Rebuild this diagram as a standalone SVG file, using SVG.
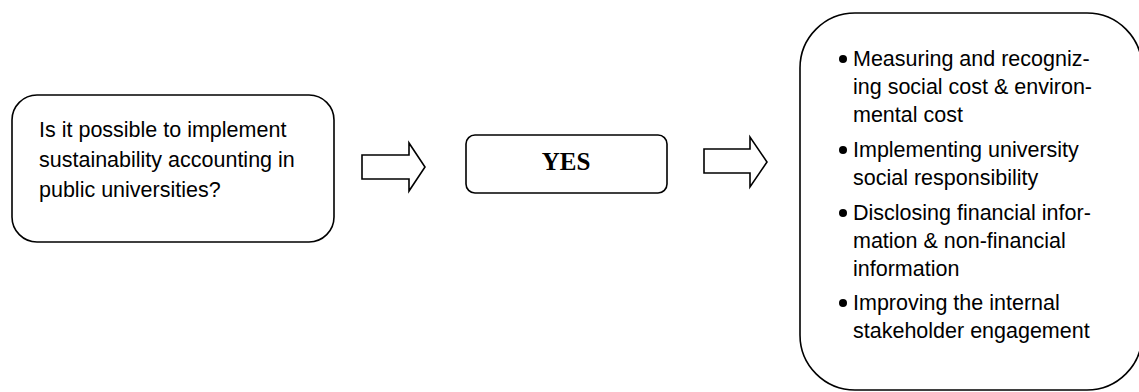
<svg xmlns="http://www.w3.org/2000/svg" width="1139" height="392" viewBox="0 0 1139 392">
<style>
.box{fill:#fff;stroke:#000;stroke-width:1.6}
.arrow{fill:#fff;stroke:#000;stroke-width:1.6;stroke-linejoin:miter}
.t{font-family:"Liberation Sans",Arial,sans-serif;font-size:21.5px;fill:#000}
.yes{font-family:"Liberation Serif","Times New Roman",serif;font-size:25px;font-weight:bold;fill:#000}
</style>
<rect width="1139" height="392" fill="#fff"/>
<g id="question">
<rect class="box" x="12" y="95" width="322" height="147" rx="25" ry="25"/>
<text class="t" x="39" y="137">Is it possible to implement</text>
<text class="t" x="39" y="167">sustainability accounting in</text>
<text class="t" x="39" y="197">public universities?</text>
</g>
<g id="yes">
<rect class="box" x="466" y="135" width="201" height="58" rx="9" ry="9"/>
<text class="yes" x="566" y="170" text-anchor="middle">YES</text>
</g>
<g id="outcomes">
<rect class="box" x="800" y="13" width="342" height="377" rx="55" ry="55"/>
<circle cx="843" cy="59" r="4"/>
<text class="t" x="853" y="66">Measuring and recogniz-</text>
<text class="t" x="853" y="94">ing social cost &amp; environ-</text>
<text class="t" x="853" y="122">mental cost</text>
<circle cx="843" cy="150" r="4"/>
<text class="t" x="853" y="157">Implementing university</text>
<text class="t" x="853" y="185">social responsibility</text>
<circle cx="843" cy="213" r="4"/>
<text class="t" x="853" y="220">Disclosing financial infor-</text>
<text class="t" x="853" y="248">mation &amp; non-financial</text>
<text class="t" x="853" y="276">information</text>
<circle cx="843" cy="303" r="4"/>
<text class="t" x="853" y="310">Improving the internal</text>
<text class="t" x="853" y="338">stakeholder engagement</text>
</g>
<g id="connectors">
<polygon class="arrow" points="362,155 409,155 409,143 425,167 409,191 409,179 362,179"/>
<polygon class="arrow" points="704,149 750,149 750,137 767,162 750,187 750,173 704,173"/>
</g>
</svg>
